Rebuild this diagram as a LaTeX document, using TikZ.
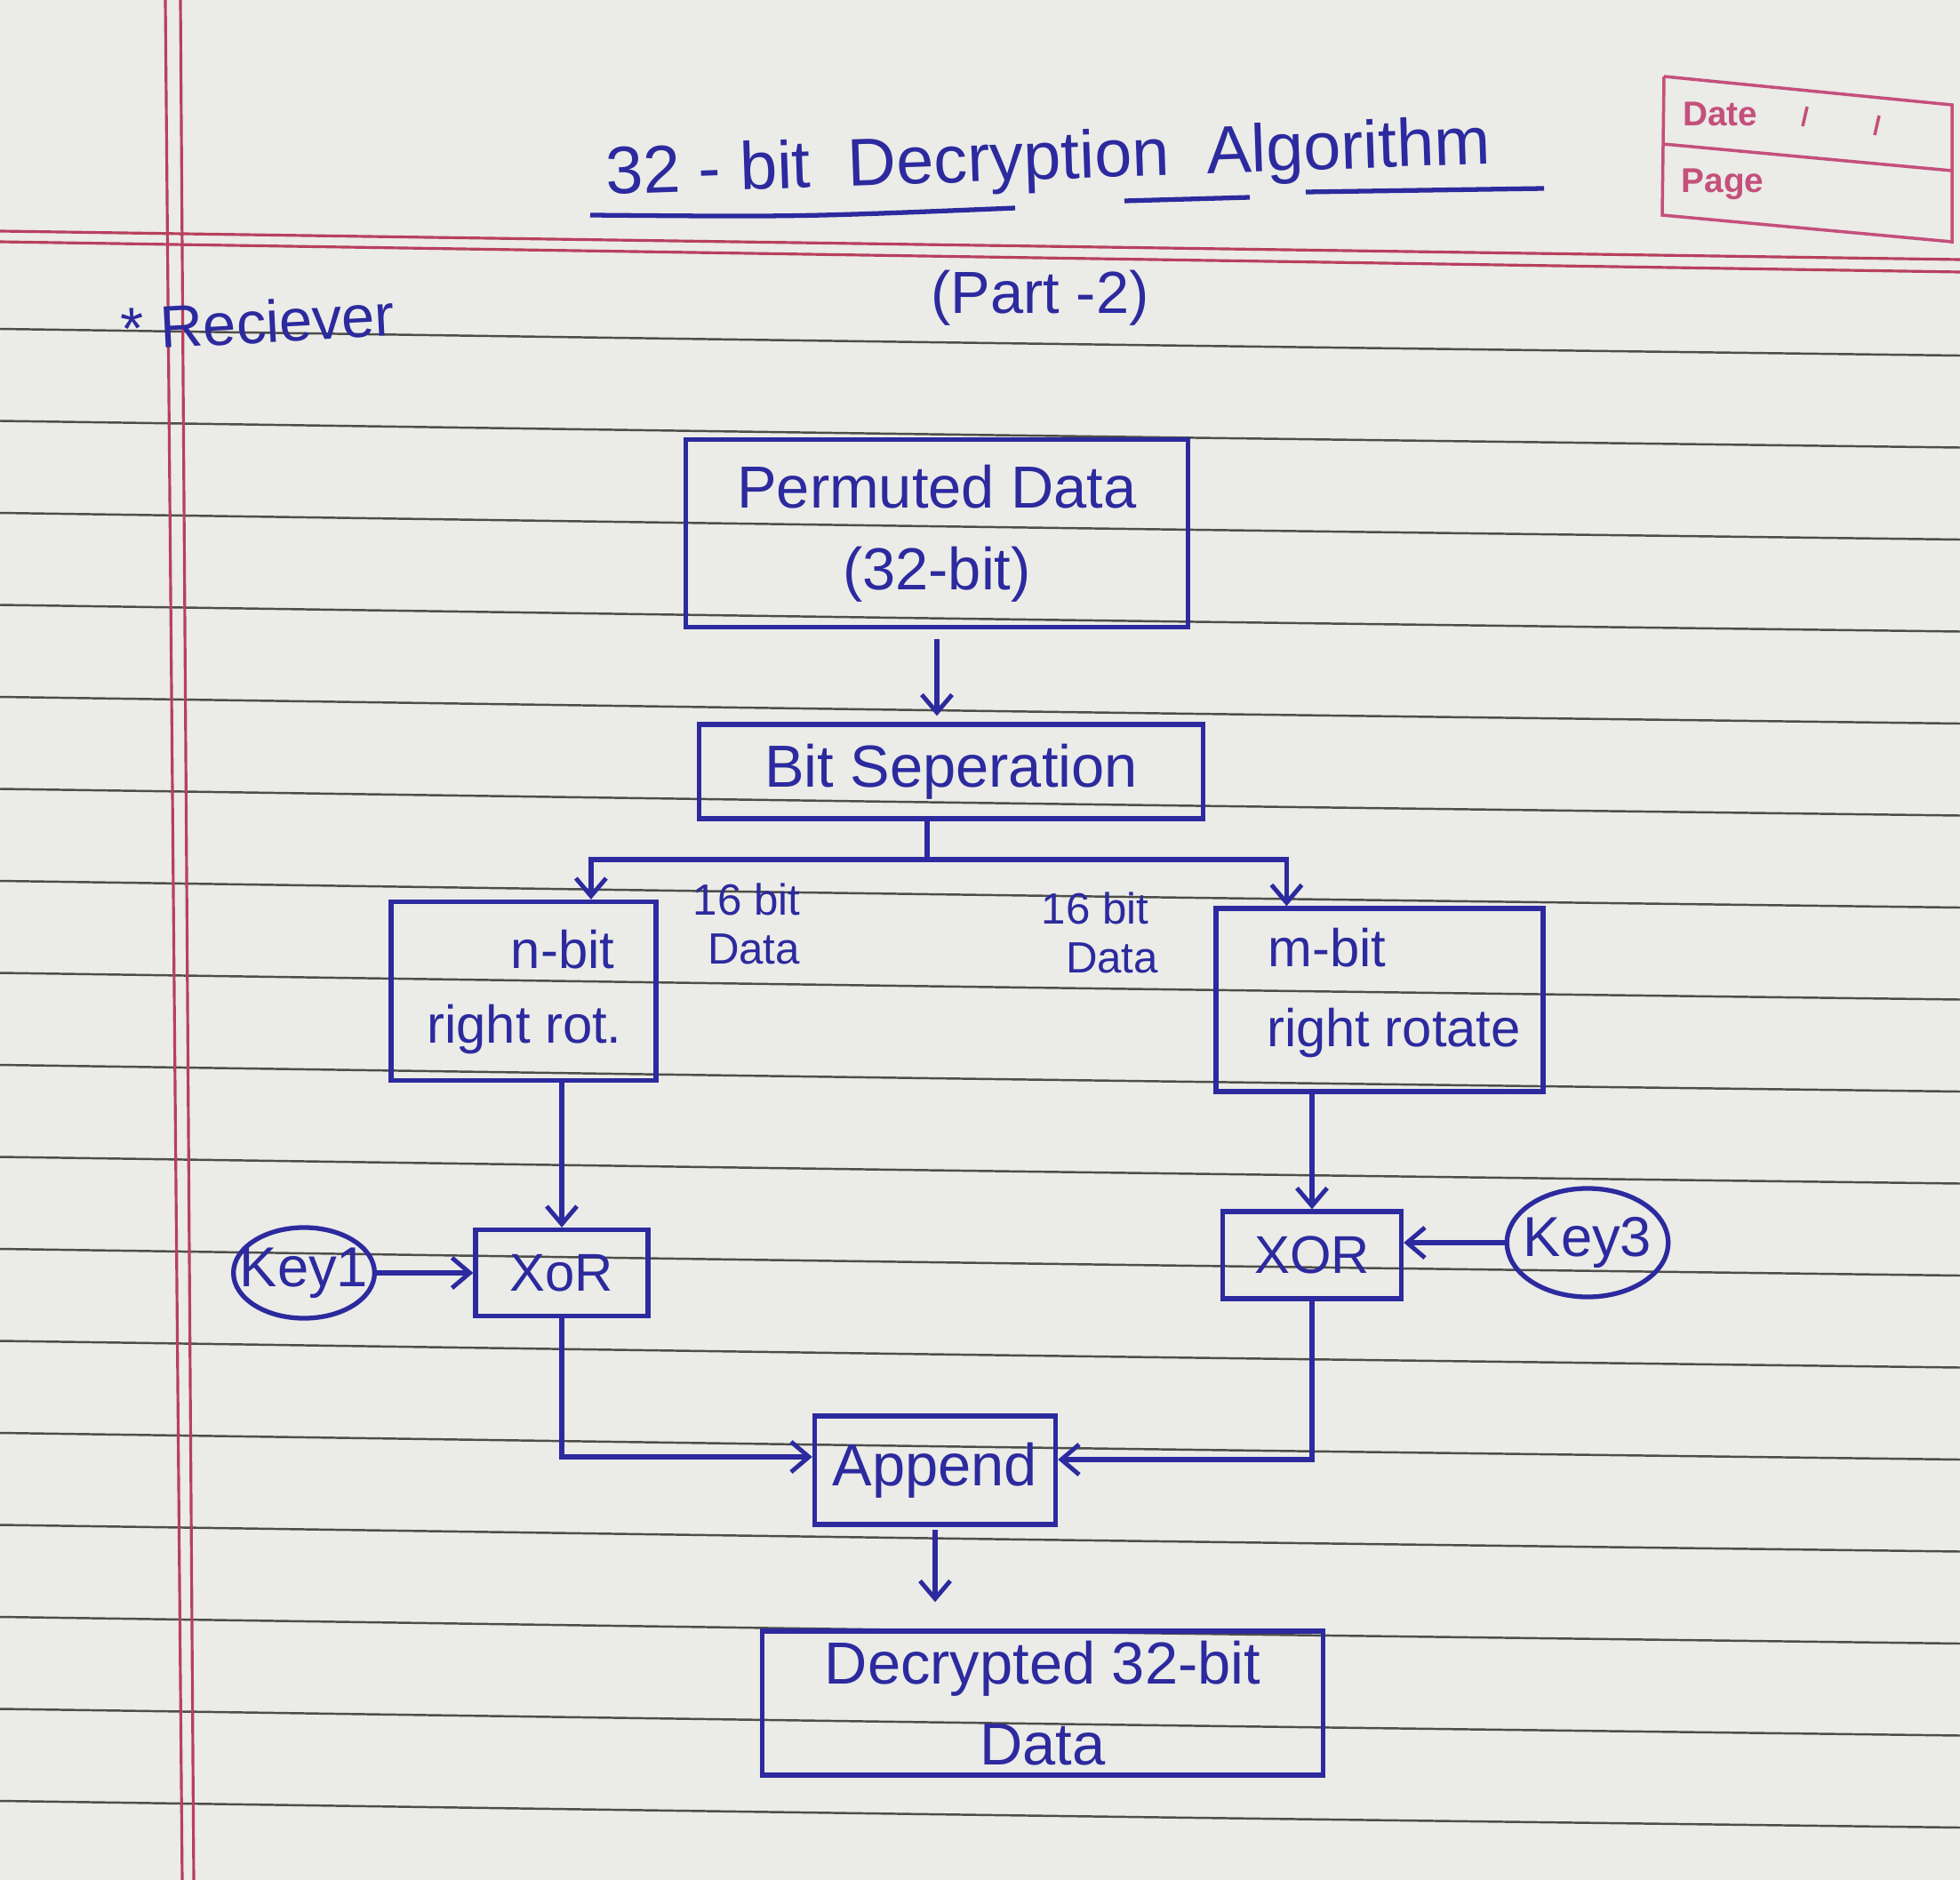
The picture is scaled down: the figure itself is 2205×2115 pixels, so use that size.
\documentclass[tikz,border=0pt]{standalone}
\usepackage{fontspec}
\setmainfont{Liberation Sans}
\usetikzlibrary{arrows.meta,shapes.geometric,calc}
\definecolor{paper}{HTML}{EBEBE8}
\definecolor{inkc}{HTML}{2C2A9E}
\definecolor{rulec}{HTML}{4E4E48}
\definecolor{marg}{HTML}{B8405F}
\definecolor{stamp}{HTML}{C4507C}
\begin{document}
\begin{tikzpicture}[x=0.01cm,y=-0.01cm,
  ink/.style={draw=inkc, line width=1.5pt},
  big/.style={font=\fontsize{19}{26}\selectfont, text=inkc},
  mid/.style={font=\fontsize{17}{22}\selectfont, text=inkc},
  sm/.style={font=\fontsize{14}{17}\selectfont, text=inkc},
  box/.style={ink, rectangle, inner sep=0pt},
  keyshape/.style={ink, ellipse, inner ysep=0pt, font=\fontsize{18}{22}\selectfont, text=inkc},
  arr/.style={ink, -{Straight Barb[length=0.2cm,width=0.34cm,line width=1.4pt]}},
  ruled/.style={draw=rulec, line width=0.7pt},
  margin/.style={draw=marg, line width=0.9pt},
  stampline/.style={draw=stamp, line width=1pt},
  stamptext/.style={font=\bfseries\fontsize{11}{13}\selectfont, text=stamp}
]
% paper
\fill[paper] (0,0) rectangle (2205,2115);
\useasboundingbox (0,0) rectangle (2205,2115);
% ruled lines
\foreach \k in {0,...,16}{
  \draw[ruled] (0,{370+103.5*\k}) .. controls (1100,{386+103.5*\k}) .. (2205,{400+103.5*\k});
}
% margins
\draw[margin] (186,0) -- (205,2115);
\draw[margin] (203,0) -- (218,2115);
\draw[margin] (0,260) -- (2205,292);
\draw[margin] (0,272) -- (2205,306);
% Date / Page stamp
\draw[stampline] (1872,86) -- (2196,118) -- (2196,274) ;
\draw[stampline] (1872,86) -- (1870,242) -- (2196,272);
\draw[stampline] (1871,162) -- (2196,192);
\node[stamptext] (date) at (1935,128) {Date};
\node[stamptext] (page) at (1938,207) {Page};
\draw[stampline] (2033,120) -- (2028,142);
\draw[stampline] (2114,130) -- (2109,152);

% title
\node[big, font=\fontsize{21.5}{26}\selectfont, rotate=2] (title) at (1179,182) {32 - bit\ \ Decryption\ \ Algorithm};
\draw[ink] (664,242) .. controls (900,244) .. (1142,234);
\draw[ink] (1265,226) -- (1406,222);
\draw[ink] (1469,216) -- (1737,212);
\node[big] (part) at (1170,335) {(Part -2)};
\node[big, rotate=3] (recv) at (290,362) {* Reciever};

% boxes
\node[box, big, align=center, minimum width=5.65cm, minimum height=2.11cm] (perm) at (1054,600) {Permuted Data\\(32-bit)};
\node[box, big, minimum width=5.66cm, minimum height=1.06cm] (bitsep) at (1070,868) {Bit Seperation};
\node[box, minimum width=2.98cm, minimum height=2.01cm] (lrot) at (589,1115) {};
\node[mid] (lrot1) at (633,1068) {n-bit};
\node[mid] (lrot2) at (590,1158) {right rot.};
\node[box, minimum width=3.68cm, minimum height=2.06cm] (rrot) at (1552,1125) {};
\node[mid] (rrot1) at (1493,1066) {m-bit};
\node[mid] (rrot2) at (1568,1162) {right rotate};
\node[sm] (d1a) at (840,1012) {16 bit};
\node[sm] (d1b) at (848,1068) {Data};
\node[sm] (d2a) at (1232,1022) {16 bit};
\node[sm] (d2b) at (1251,1078) {Data};
\node[box, mid, minimum width=1.94cm, minimum height=0.97cm] (lxor) at (632,1432) {XoR};
\node[box, mid, minimum width=2.01cm, minimum height=0.98cm] (rxor) at (1476,1412) {XOR};
\node[keyshape, inner xsep=-0.16cm, minimum height=1.02cm] (key1) at (342,1432) {Key1};
\node[keyshape, inner xsep=-0.08cm, minimum height=1.22cm] (key3) at (1786,1398) {Key3};
\node[box, big, minimum width=2.71cm, minimum height=1.22cm] (app) at (1052,1654) {Append};
\node[box, big, align=center, minimum width=6.30cm, minimum height=1.62cm] (dec) at (1173,1916) {Decrypted 32-bit\\Data};

% connectors
\draw[arr, shorten <=0.11cm, shorten >=0.07cm] (perm.south) -- (perm.south |- bitsep.north);
\coordinate (split) at (1043,967);
\draw[ink] (bitsep.south -| split) -- (split);
\draw[arr] (split) -| ($(lrot.north west)!0.75!(lrot.north east)$);
\draw[arr] (split) -| ($(rrot.north west)!0.22!(rrot.north east)$);
\draw[arr] (lxor.north |- lrot.south) -- (lxor.north);
\draw[arr] (rxor.north |- rrot.south) -- (rxor.north);
\draw[arr] (key1) -- (lxor);
\draw[arr] (key3.west) -- (key3.west -| rxor.east);
\draw[arr] (lxor.south) |- ($(app.west)+(0,-15)$);
\draw[arr] (rxor.south) |- ($(app.east)+(0,-12)$);
\draw[arr, shorten <=0.03cm, shorten >=0.3cm] (app.south) -- (app.south |- dec.north);
\end{tikzpicture}
\end{document}
